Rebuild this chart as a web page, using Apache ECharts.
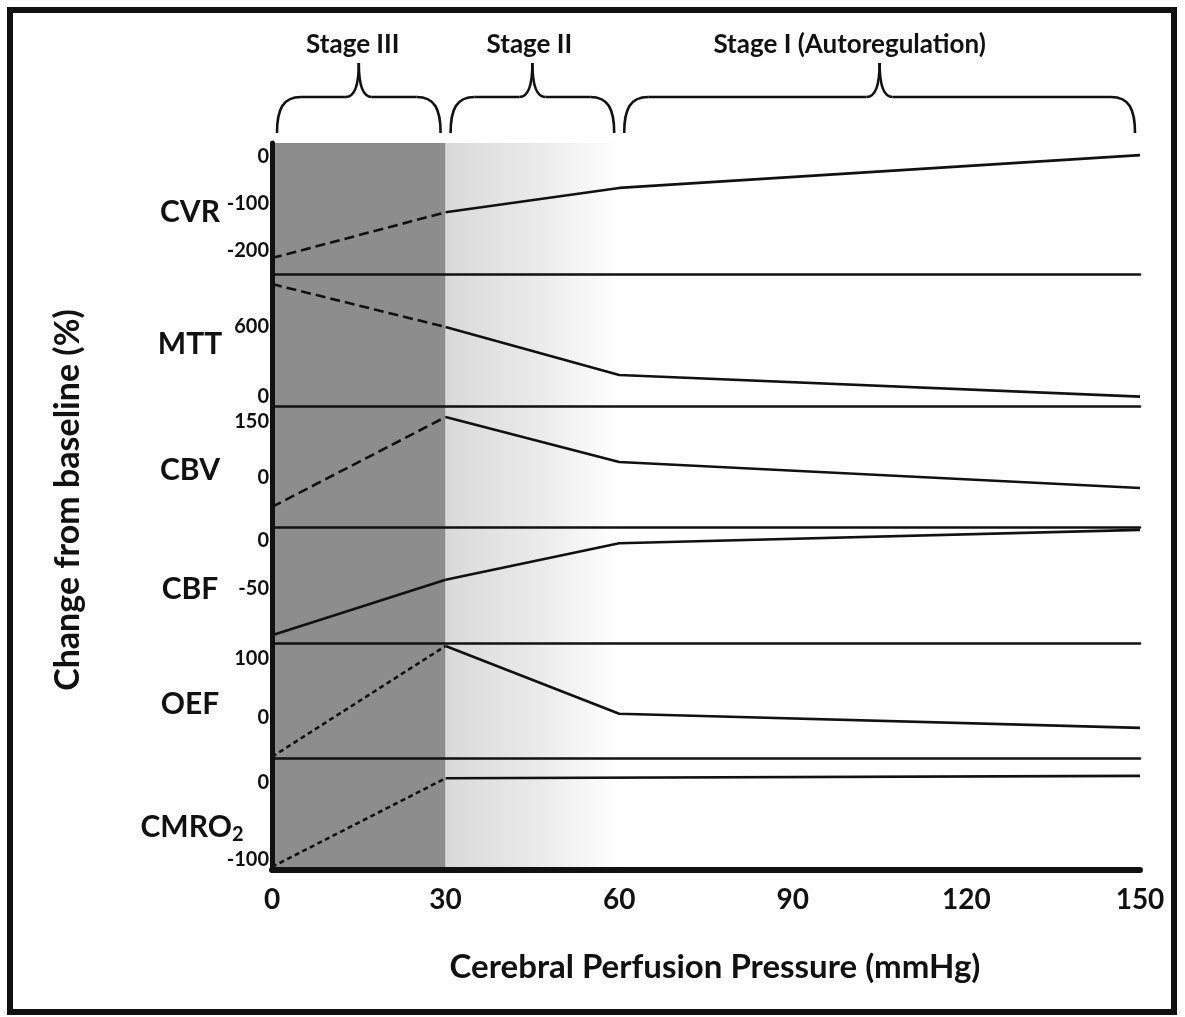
<!DOCTYPE html>
<html><head><meta charset="utf-8">
<script src="https://cdn.jsdelivr.net/npm/echarts@6/dist/echarts.min.js"></script>
<style>html,body{margin:0;padding:0;background:#fff}#c{width:1185px;height:1017px}</style>
</head><body><div id="c"></div>
<script>
// ---------- DATA ----------
const xTicks = [0, 30, 60, 90, 120, 150];
const stageBounds = [0, 30, 60, 150];
const stageNames = ['Stage III', 'Stage II', 'Stage I (Autoregulation)'];
const panelNames = ['CVR', 'MTT', 'CBV', 'CBF', 'OEF', 'CMRO2'];
const xTitle = 'Cerebral Perfusion Pressure (mmHg)';
const yTitle = 'Change from baseline (%)';

const cvrX = [0, 30, 60, 150],  cvrY = [-216, -118, -66, 4];
const mttX = [0, 30, 60, 150],  mttY = [964, 596, 185, 0];
const cbvX = [0, 30, 60, 150],  cbvY = [-77, 161, 42, -27];
const cbfX = [0, 30, 60, 150],  cbfY = [-99, -41, -3, 11];
const oefX = [0, 30, 60, 150],  oefY = [-66, 122, 7, -17];
const cmroX = [0, 30, 150],     cmroY = [-109, 5, 8];

const cvrTicks = [0, -100, -200];
const mttTicks = [600, 0];
const cbvTicks = [150, 0];
const cbfTicks = [0, -50];
const oefTicks = [100, 0];
const cmroTicks = [0, -100];

// ---------- LAYOUT / STYLE ----------
const plotLeft = 272, plotRight = 1140;
const panelEdges = [143, 274, 406, 527, 643, 758, 870];
const yRanges = [[-250, 30], [-80, 1050], [-130, 190], [-107, 14], [-68, 127], [-113, 31]];
const earlyStyles = ['dashed', 'dashed', 'dashed', 'solid', 'dotted', 'dotted'];
const dashPatterns = { dashed: [10, 5], dotted: [5, 3.5], solid: 'solid' };
const FONT = 'Lato';
const INK = '#111';

const panels = [
  { x: cvrX, y: cvrY, ticks: cvrTicks },
  { x: mttX, y: mttY, ticks: mttTicks },
  { x: cbvX, y: cbvY, ticks: cbvTicks },
  { x: cbfX, y: cbfY, ticks: cbfTicks },
  { x: oefX, y: oefY, ticks: oefTicks },
  { x: cmroX, y: cmroY, ticks: cmroTicks }
];

const grids = [], xAxes = [], yAxes = [], series = [];
const stageIIFill = new echarts.graphic.LinearGradient(0, 0, 1, 0, [
  { offset: 0, color: '#d9d9d9' },
  { offset: 0.55, color: '#ebebeb' },
  { offset: 1, color: '#ffffff' }
]);

panels.forEach((p, i) => {
  const last = i === panels.length - 1;
  const isCmro = panelNames[i] === 'CMRO2';
  grids.push({ left: plotLeft, width: plotRight - plotLeft, top: panelEdges[i], height: panelEdges[i + 1] - panelEdges[i] });
  xAxes.push({
    gridIndex: i, type: 'value', min: xTicks[0], max: xTicks[xTicks.length - 1], interval: 30, z: 10,
    axisLine: { show: true, onZero: false, lineStyle: { color: INK, width: last ? 6 : 2.5 } },
    axisTick: { show: false }, splitLine: { show: false },
    axisLabel: { show: last, fontSize: 28, fontFamily: FONT, fontWeight: 'bold', color: INK, margin: 16 },
    name: last ? xTitle : '', nameLocation: 'middle', nameGap: 81, nameMoveOverlap: false,
    nameTextStyle: { fontSize: 33, fontFamily: FONT, fontWeight: 'bold', color: INK, padding: [0, 0, 0, 18] }
  });
  const label = isCmro ? '{a|CMRO}{b|2}' : '{a|' + panelNames[i] + '}';
  yAxes.push({
    gridIndex: i, type: 'value', min: yRanges[i][0], max: yRanges[i][1], z: 10,
    axisLine: { show: true, lineStyle: { color: INK, width: 5 } },
    axisTick: { show: false }, splitLine: { show: false },
    axisLabel: { customValues: p.ticks, fontSize: 20, fontFamily: FONT, fontWeight: 'bold', color: INK, margin: 3 },
    name: label, nameLocation: 'middle', nameRotate: 0, nameGap: isCmro ? 80 : 82, nameMoveOverlap: false,
    nameTextStyle: {
      align: 'center', verticalAlign: 'middle', color: INK,
      padding: isCmro ? [26, 0, 0, 0] : [8, 0, 0, 0],
      rich: {
        a: { fontSize: 30, fontFamily: FONT, fontWeight: 'bold', color: INK },
        b: { fontSize: 20, fontFamily: FONT, fontWeight: 'bold', color: INK, padding: [16, 0, 0, 0] }
      }
    }
  });
  const pts = p.x.map((v, k) => [v, p.y[k]]);
  const splitIdx = p.x.indexOf(stageBounds[1]);
  const early = pts.slice(0, splitIdx + 1);
  const late = pts.slice(splitIdx);
  const st = earlyStyles[i];
  series.push({
    type: 'line', xAxisIndex: i, yAxisIndex: i, data: early, symbol: 'none', z: 5,
    lineStyle: { color: INK, width: 2.6, type: dashPatterns[st] },
    markArea: {
      silent: true,
      data: [
        [{ xAxis: stageBounds[0], itemStyle: { color: '#8d8d8d' } }, { xAxis: stageBounds[1] }],
        [{ xAxis: stageBounds[1], itemStyle: { color: stageIIFill } }, { xAxis: stageBounds[2] }]
      ]
    }
  });
  series.push({
    type: 'line', xAxisIndex: i, yAxisIndex: i, data: late, symbol: 'none', z: 5,
    lineStyle: { color: INK, width: 2.6 }
  });
});

const chart = echarts.init(document.getElementById('c'), null, { renderer: 'canvas' });
chart.setOption({
  animation: false,
  backgroundColor: '#fff',
  grid: grids, xAxis: xAxes, yAxis: yAxes, series: series
});

// ---------- ANNOTATIONS (braces, labels, frame) ----------
const px = v => chart.convertToPixel({ xAxisIndex: 0 }, v);
const braceBottom = 133, braceMid = 97, braceTip = 63, inset = 5;
const labelDx = [-6, -3, -30];
const braceLine = { fill: null, stroke: INK, lineWidth: 2.6 };
function bez(a, b, c, d) {
  return { type: 'bezierCurve', z: 20, shape: { x1: a[0], y1: a[1], cpx1: b[0], cpy1: b[1], cpx2: c[0], cpy2: c[1], x2: d[0], y2: d[1] }, style: braceLine };
}
function seg(a, b) {
  return { type: 'line', z: 20, shape: { x1: a[0], y1: a[1], x2: b[0], y2: b[1] }, style: braceLine };
}
function brace(x1, x2) {
  const xm = (x1 + x2) / 2, yb = braceBottom, yh = braceMid, yc = braceTip;
  return [
    bez([x1, yb], [x1, yh + 12], [x1 + 6, yh], [x1 + 24, yh]),
    seg([x1 + 24, yh], [xm - 13, yh]),
    bez([xm - 13, yh], [xm - 4, yh], [xm, yh - 12], [xm, yc]),
    bez([xm, yc], [xm, yh - 12], [xm + 4, yh], [xm + 13, yh]),
    seg([xm + 13, yh], [x2 - 24, yh]),
    bez([x2 - 24, yh], [x2 - 6, yh], [x2, yh + 12], [x2, yb])
  ];
}
let graphics = [];
stageNames.forEach((n, k) => {
  const x1 = px(stageBounds[k]) + inset, x2 = px(stageBounds[k + 1]) - inset;
  graphics = graphics.concat(brace(x1, x2));
  graphics.push({ type: 'text', x: (x1 + x2) / 2 + labelDx[k], y: 45, z: 20,
    style: { text: n, fontSize: 26, fontFamily: FONT, fontWeight: 'bold', fill: INK, align: 'center', verticalAlign: 'middle' } });
});
graphics.push({ type: 'text', x: 68, y: 500, rotation: Math.PI / 2, z: 20,
  style: { text: yTitle, fontSize: 34, fontFamily: FONT, fontWeight: 'bold', fill: INK, align: 'center', verticalAlign: 'middle' } });
graphics.push({ type: 'rect', z: 20, shape: { x: 10, y: 10, width: 1164, height: 1002 }, style: { fill: null, stroke: INK, lineWidth: 6 } });
chart.setOption({ graphic: graphics });
</script>
</body></html>
